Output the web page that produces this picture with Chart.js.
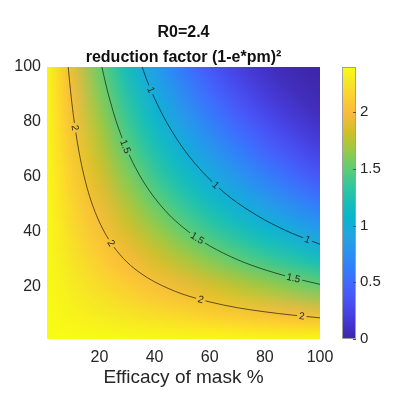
<!DOCTYPE html>
<html>
<head>
<meta charset="utf-8">
<script src="https://cdn.jsdelivr.net/npm/chart.js@4.4.1/dist/chart.umd.min.js"></script>
<style>
  html, body { margin: 0; padding: 0; background: #fff; }
  #wrap { width: 395px; height: 411px; position: relative; }
</style>
</head>
<body>
<div id="wrap"><canvas id="maskChart"></canvas></div>
<script>
// grid nodes: efficacy of mask % (x) and masking % (y)
const effGrid = [0, 10, 20, 30, 40, 50, 60, 70, 80, 90, 100];
const maskGrid = [0, 10, 20, 30, 40, 50, 60, 70, 80, 90, 100];
// R values, one row per maskGrid entry, bottom row first
const rGrid = [
  [2.4, 2.4,   2.4,   2.4,   2.4,   2.4,   2.4,   2.4,   2.4,   2.4,   2.4],
  [2.4, 2.352, 2.305, 2.258, 2.212, 2.166, 2.121, 2.076, 2.031, 1.987, 1.944],
  [2.4, 2.305, 2.212, 2.121, 2.031, 1.944, 1.859, 1.775, 1.693, 1.614, 1.536],
  [2.4, 2.258, 2.121, 1.987, 1.859, 1.734, 1.614, 1.498, 1.386, 1.279, 1.176],
  [2.4, 2.212, 2.031, 1.859, 1.693, 1.536, 1.386, 1.244, 1.110, 0.983, 0.864],
  [2.4, 2.166, 1.944, 1.734, 1.536, 1.350, 1.176, 1.014, 0.864, 0.726, 0.600],
  [2.4, 2.121, 1.859, 1.614, 1.386, 1.176, 0.983, 0.807, 0.649, 0.508, 0.384],
  [2.4, 2.076, 1.775, 1.498, 1.244, 1.014, 0.807, 0.624, 0.465, 0.329, 0.216],
  [2.4, 2.031, 1.693, 1.386, 1.110, 0.864, 0.649, 0.465, 0.311, 0.188, 0.096],
  [2.4, 1.987, 1.614, 1.279, 0.983, 0.726, 0.508, 0.329, 0.188, 0.087, 0.024],
  [2.4, 1.944, 1.536, 1.176, 0.864, 0.600, 0.384, 0.216, 0.096, 0.024, 0]
];

// contour lines
const contourLevels = [2, 1.5, 1];
const c2X = [8.7, 9, 9.5, 10, 10.5, 11, 12, 13, 14, 15, 16, 18, 20, 22.5, 25, 30, 35, 40, 45, 50, 60, 70, 80, 90, 100];
const c2Y = [100, 96.8, 91.7, 87.1, 83.0, 79.2, 72.6, 67.0, 62.2, 58.1, 54.4, 48.4, 43.6, 38.7, 34.8, 29.0, 24.9, 21.8, 19.4, 17.4, 14.5, 12.4, 10.9, 9.7, 8.7];
const c15X = [20.9, 21.5, 22, 23, 24, 26, 28, 30, 33, 36, 40, 45, 50, 55, 60, 70, 80, 90, 100];
const c15Y = [100, 97.4, 95.2, 91.0, 87.3, 80.5, 74.8, 69.8, 63.5, 58.2, 52.4, 46.5, 41.9, 38.1, 34.9, 29.9, 26.2, 23.3, 20.9];
const c1X = [35.5, 37, 40, 43, 46, 50, 55, 60, 65, 70, 75, 80, 90, 100];
const c1Y = [100, 95.8, 88.6, 82.4, 77.1, 70.9, 64.5, 59.1, 54.5, 50.6, 47.3, 44.3, 39.4, 35.5];
// where the inline level labels sit (x of each label)
const c2LabelX = [11.2, 24.3, 56.8, 93.4];
const c15LabelX = [29.5, 55.5, 90.4];
const c1LabelX = [38.7, 62.2, 95.5];

const xTicks = [20, 40, 60, 80, 100];
const yTicks = [20, 40, 60, 80, 100];
const cbTicks = [0, 0.5, 1, 1.5, 2];
const cbMin = 0, cbMax = 2.4;

// parula colormap (every 4th entry)
const parula = [
  [0, 62, 38, 168], [4, 69, 55, 213], [8, 72, 77, 240], [12, 69, 99, 253],
  [16, 50, 124, 252], [20, 43, 145, 239], [24, 32, 165, 227], [28, 8, 181, 208],
  [32, 25, 191, 182], [36, 55, 200, 151], [40, 100, 205, 111], [44, 157, 201, 67],
  [48, 209, 191, 39], [52, 248, 186, 61], [56, 252, 207, 48], [60, 245, 233, 36],
  [63, 249, 251, 21]
];

function colorAt(v) {
  const f = Math.max(0, Math.min(1, (v - cbMin) / (cbMax - cbMin))) * 63;
  for (let k = 0; k < parula.length - 1; k++) {
    const a = parula[k], b = parula[k + 1];
    if (f <= b[0]) {
      const t = (f - a[0]) / (b[0] - a[0]);
      return [1, 2, 3].map(c => Math.round(a[c] + t * (b[c] - a[c])));
    }
  }
  return parula[parula.length - 1].slice(1);
}

const contourSets = [
  { level: contourLevels[0], xs: c2X, ys: c2Y, labels: c2LabelX },
  { level: contourLevels[1], xs: c15X, ys: c15Y, labels: c15LabelX },
  { level: contourLevels[2], xs: c1X, ys: c1Y, labels: c1LabelX }
];

const LABEL_FONT = '10px "Liberation Sans", Arial, sans-serif';

function labelSpots(chart) {
  const ctx = chart.ctx;
  const spots = [];
  ctx.save();
  ctx.font = LABEL_FONT;
  contourSets.forEach((set, di) => {
    const pts = chart.getDatasetMeta(di).data;
    set.labels.forEach(lx => {
      const px = chart.scales.x.getPixelForValue(lx);
      for (let k = 0; k < pts.length - 1; k++) {
        const p = pts[k], q = pts[k + 1];
        if (px >= p.x && px <= q.x) {
          const t = (px - p.x) / (q.x - p.x || 1);
          const text = String(set.level);
          spots.push({
            x: px, y: p.y + t * (q.y - p.y),
            ang: Math.atan2(q.y - p.y, q.x - p.x),
            text, w: ctx.measureText(text).width
          });
          break;
        }
      }
    });
  });
  ctx.restore();
  return spots;
}

const heatmapPlugin = {
  id: 'heatmap',
  beforeDatasetsDraw(chart) {
    const { ctx, chartArea: a, scales: { x, y } } = chart;
    const nx = effGrid.length, ny = maskGrid.length;
    const off = document.createElement('canvas');
    off.width = nx; off.height = ny;
    const octx = off.getContext('2d');
    const img = octx.createImageData(nx, ny);
    for (let j = 0; j < ny; j++) {
      for (let i = 0; i < nx; i++) {
        const c = colorAt(rGrid[j][i]);
        const p = ((ny - 1 - j) * nx + i) * 4;
        img.data[p] = c[0]; img.data[p + 1] = c[1]; img.data[p + 2] = c[2]; img.data[p + 3] = 255;
      }
    }
    octx.putImageData(img, 0, 0);
    const dx = (effGrid[1] - effGrid[0]) / 2, dy = (maskGrid[1] - maskGrid[0]) / 2;
    const x0 = x.getPixelForValue(effGrid[0] - dx), x1 = x.getPixelForValue(effGrid[nx - 1] + dx);
    const y0 = y.getPixelForValue(maskGrid[ny - 1] + dy), y1 = y.getPixelForValue(maskGrid[0] - dy);
    ctx.save();
    ctx.beginPath();
    ctx.rect(a.left, a.top, a.right - a.left, a.bottom - a.top);
    ctx.clip();
    ctx.imageSmoothingEnabled = true;
    ctx.imageSmoothingQuality = 'high';
    ctx.drawImage(off, x0, y0, x1 - x0, y1 - y0);
    ctx.restore();

    // leave gaps in the contour lines where the labels go
    chart.$spots = labelSpots(chart);
    ctx.save();
    ctx.beginPath();
    ctx.rect(0, 0, chart.width, chart.height);
    chart.$spots.forEach(s => {
      const hw = s.w / 2 + 2, hh = 5;
      const cos = Math.cos(s.ang), sin = Math.sin(s.ang);
      [[-hw, -hh], [hw, -hh], [hw, hh], [-hw, hh]].forEach(([sx, sy], k) => {
        const X = s.x + sx * cos - sy * sin, Y = s.y + sx * sin + sy * cos;
        if (k === 0) ctx.moveTo(X, Y); else ctx.lineTo(X, Y);
      });
      ctx.closePath();
    });
    ctx.clip('evenodd');
  },
  afterDatasetsDraw(chart) {
    const ctx = chart.ctx;
    ctx.restore();
    ctx.save();
    ctx.font = LABEL_FONT;
    ctx.fillStyle = '#262626';
    ctx.textAlign = 'center';
    ctx.textBaseline = 'middle';
    (chart.$spots || []).forEach(s => {
      ctx.save();
      ctx.translate(s.x, s.y);
      ctx.rotate(s.ang);
      ctx.fillText(s.text, 0, 0.5);
      ctx.restore();
    });
    ctx.restore();
  }
};

const colorbarPlugin = {
  id: 'colorbar',
  afterDraw(chart) {
    const { ctx } = chart;
    const cb = chart.scales.cb;
    const left = cb.left + 22, w = 14;
    const top = cb.getPixelForValue(cbMax), bottom = cb.getPixelForValue(cbMin);
    const g = ctx.createLinearGradient(0, bottom, 0, top);
    parula.forEach(c => g.addColorStop(c[0] / 63, `rgb(${c[1]},${c[2]},${c[3]})`));
    ctx.save();
    ctx.fillStyle = g;
    ctx.fillRect(left, top, w, bottom - top);
    ctx.strokeStyle = '#a0a0a0';
    ctx.lineWidth = 1;
    ctx.strokeRect(left + 0.5, top + 0.5, w - 1, bottom - top - 1);
    ctx.strokeStyle = '#555';
    cbTicks.forEach(v => {
      const py = Math.round(cb.getPixelForValue(v)) + 0.5;
      ctx.beginPath();
      ctx.moveTo(left + w - 3, py);
      ctx.lineTo(left + w, py);
      ctx.stroke();
    });
    ctx.restore();
  }
};

const tickFont = { family: '"Liberation Sans", Arial, sans-serif', size: 16 };
const textColor = '#262626';

const datasets = contourSets.map(set => ({
  data: set.xs.map((v, i) => ({ x: v, y: set.ys[i] })),
  showLine: true,
  borderColor: 'rgba(0,0,0,0.6)',
  borderWidth: 1,
  pointRadius: 0,
  cubicInterpolationMode: 'monotone'
}));

new Chart(document.getElementById('maskChart'), {
  type: 'scatter',
  data: { datasets },
  plugins: [heatmapPlugin, colorbarPlugin],
  options: {
    responsive: true,
    maintainAspectRatio: false,
    animation: false,
    events: [],
    layout: { padding: 0 },
    plugins: {
      legend: { display: false },
      tooltip: { enabled: false },
      title: {
        display: true,
        fullSize: false,
        text: ['R0=2.4', 'reduction factor (1-e*pm)²'],
        color: '#111',
        font: { family: '"Liberation Sans", Arial, sans-serif', size: 16, weight: 'bold', lineHeight: 1.5625 },
        padding: { top: 20, bottom: -3 }
      }
    },
    scales: {
      x: {
        type: 'linear', min: 1, max: 100,
        afterBuildTicks: s => { s.ticks = xTicks.map(v => ({ value: v })); },
        afterFit: s => { s.height = 72; },
        grid: { display: false, drawTicks: false },
        border: { display: false },
        ticks: { font: tickFont, color: textColor, padding: 9, maxRotation: 0 },
        title: {
          display: true, text: 'Efficacy of mask %', color: textColor,
          font: { family: '"Liberation Sans", Arial, sans-serif', size: 19 },
          padding: { top: 0, bottom: 22 }
        }
      },
      y: {
        type: 'linear', min: 1, max: 100,
        afterBuildTicks: s => { s.ticks = yTicks.map(v => ({ value: v })); },
        afterFit: s => { s.width = 47; },
        grid: { display: false, drawTicks: false },
        border: { display: false },
        ticks: { font: tickFont, color: textColor, padding: 6 }
      },
      cb: {
        type: 'linear', position: 'right', min: cbMin, max: cbMax,
        afterBuildTicks: s => { s.ticks = cbTicks.map(v => ({ value: v })); },
        afterFit: s => { s.width = 75; },
        grid: { display: false, drawTicks: false },
        border: { display: false },
        ticks: { font: { family: '"Liberation Sans", Arial, sans-serif', size: 15 }, color: textColor, padding: 40, callback: v => String(v) }
      }
    }
  }
});
</script>
</body>
</html>
